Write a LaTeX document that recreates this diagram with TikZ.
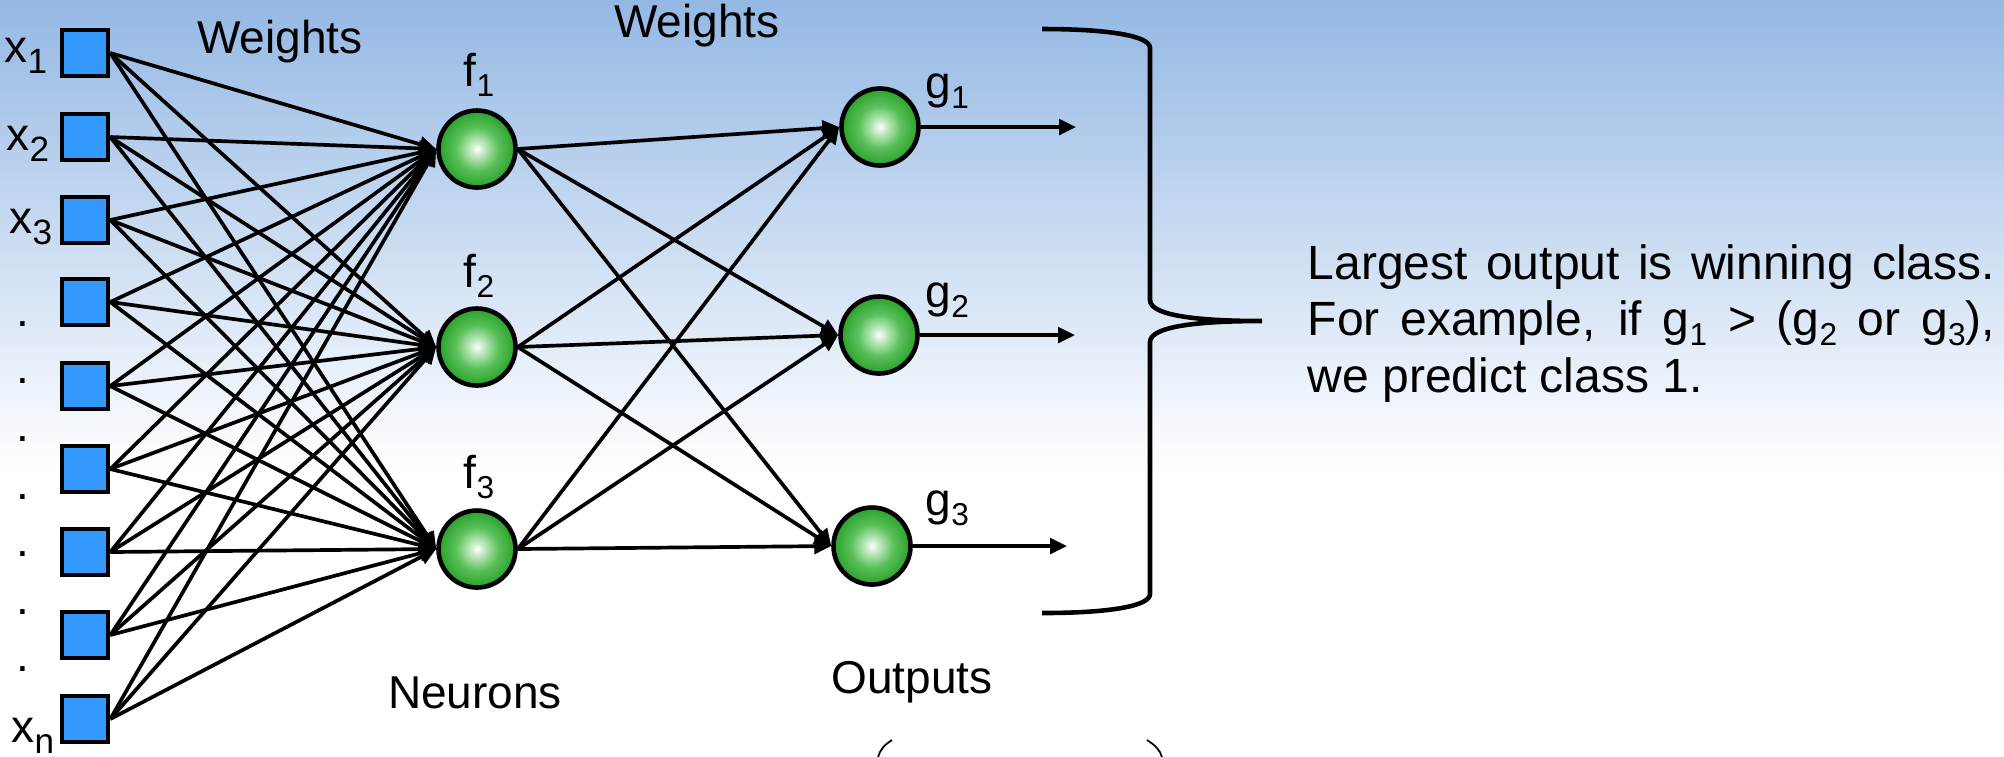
\documentclass[tikz,border=0pt]{standalone}
\usepackage{fontspec}
\setmainfont{Liberation Sans}
\usetikzlibrary{arrows.meta}
\definecolor{bgtop}{RGB}{148,184,228}
\definecolor{sqblue}{RGB}{51,153,255}
\definecolor{ngreen}{RGB}{22,150,22}
\definecolor{nmid}{RGB}{90,192,90}
\definecolor{nlight}{RGB}{200,236,200}
\pgfdeclareradialshading{neuronshade}{\pgfpoint{0bp}{0bp}}{color(0bp)=(white); color(4bp)=(nlight); color(14bp)=(nmid); color(26bp)=(ngreen!80!nmid); color(35bp)=(ngreen); color(50bp)=(ngreen)}
\newcommand{\sx}[1]{\raisebox{-3.2pt}{\fontsize{10}{10}\selectfont #1}}
\newcommand{\sfg}[1]{\raisebox{-3pt}{\fontsize{9}{9}\selectfont #1}}
\newcommand{\stx}[1]{\raisebox{-2.8pt}{\fontsize{9}{9}\selectfont #1}}
\begin{document}
\begin{tikzpicture}[x=0.01cm,y=-0.01cm,
  inbox/.style={rectangle,draw=black,line width=1.3pt,fill=sqblue,minimum size=0.46cm,inner sep=0pt},
  neuron/.style={circle,draw=black,line width=1.3pt,shade,shading=neuronshade,minimum size=0.77cm,inner sep=0pt},
  lbl/.style={font=\fontsize{13.09}{15}\selectfont,inner sep=0pt},
  conn/.style={line width=1.05pt,-{Triangle[length=4.8pt,width=4.4pt]}},
  bracestyle/.style={line width=1.3pt}
]
\useasboundingbox (0,0) rectangle (2004,756);
\shade[top color=bgtop,bottom color=white] (0,0) rectangle (2004,470);
\fill[white] (0,470) rectangle (2004,756);

% inputs
\foreach \i/\y in {1/53,2/137,3/220,4/302,5/386,6/469,7/552,8/635,9/719}
  \node[inbox] (i\i) at (85,\y) {};
\node[lbl,anchor=base east] (lx1) at (48,62) {x\sx{1}};
\node[lbl,anchor=base east] (lx2) at (50,150) {x\sx{2}};
\node[lbl,anchor=base east] (lx3) at (53,233) {x\sx{3}};
\node[lbl,anchor=base east] (lxn) at (55,742) {x\sx{n}};
\foreach \k/\y in {1/326,2/383,3/441,4/499,5/556,6/614,7/671}
  \node[lbl,anchor=base] (d\k) at (23,\y) {.};

% neurons and outputs
\node[neuron] (f1) at (477,149) {};
\node[neuron] (f2) at (477,347) {};
\node[neuron] (f3) at (477,549) {};
\node[neuron] (g1) at (880,127) {};
\node[neuron] (g2) at (879,335) {};
\node[neuron] (g3) at (872,546) {};

\node[lbl,anchor=base] (lf1) at (479,86) {f\sfg{1}};
\node[lbl,anchor=base] (lf2) at (479,287) {f\sfg{2}};
\node[lbl,anchor=base] (lf3) at (479,488) {f\sfg{3}};
\node[lbl,anchor=base west] (lg1) at (925,98) {g\sfg{1}};
\node[lbl,anchor=base west] (lg2) at (925,307) {g\sfg{2}};
\node[lbl,anchor=base west] (lg3) at (925,515) {g\sfg{3}};

\node[lbl,anchor=base] (w1) at (280,53) {Weights};
\node[lbl,anchor=base] (w2) at (697,37) {Weights};
\node[lbl,anchor=base] (neur) at (475,708) {Neurons};
\node[lbl,anchor=base] (outs) at (912,693) {Outputs};

% connections
\foreach \i in {1,...,9}
  \foreach \j in {1,2,3}
    \draw[conn] (i\i.east) -- (f\j.west);
\foreach \i in {1,2,3}
  \foreach \j in {1,2,3}
    \draw[conn] (f\i.east) -- (g\j.west);

\coordinate (o1) at (1076,127);
\coordinate (o2) at (1075,335);
\coordinate (o3) at (1067,546);
\draw[conn] (g1.east) -- (o1);
\draw[conn] (g2.east) -- (o2);
\draw[conn] (g3.east) -- (o3);

% brace
\draw[bracestyle] (1042,29) .. controls (1110,29) and (1150,36) .. (1150,48)
  -- (1150,300) .. controls (1150,316) and (1200,321) .. (1262,321)
  .. controls (1200,321) and (1150,326) .. (1150,342)
  -- (1150,594) .. controls (1150,606) and (1110,613) .. (1042,613);

% text
\node[anchor=base west,text width=6.87cm,align=justify,inner sep=0pt,
  font=\fontsize{13.66}{16.2}\selectfont] (note) at (1307,279)
  {Largest output is winning class.\linebreak For example, if g\stx{1} > (g\stx{2} or g\stx{3}),\linebreak we predict class 1.};

% partial arcs at the bottom
\draw[line width=0.5pt] (892,740) .. controls (884,745) and (880,750) .. (878,757);
\draw[line width=0.5pt] (1147,740) .. controls (1155,745) and (1160,750) .. (1162,757);
\end{tikzpicture}
\end{document}
